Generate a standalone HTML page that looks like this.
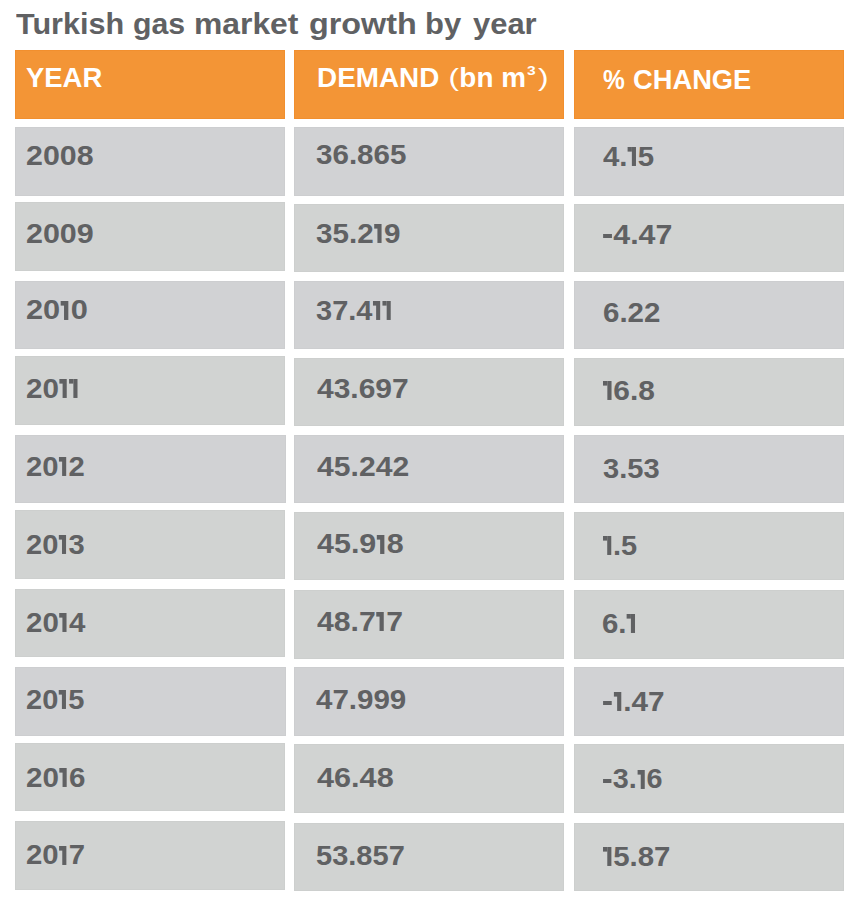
<!DOCTYPE html><html><head><meta charset="utf-8"><title>Turkish gas market growth by year</title><style>
html,body{margin:0;padding:0;background:#fff;}
body{width:858px;height:908px;position:relative;overflow:hidden;font-family:"Liberation Sans",sans-serif;font-weight:bold;}
.b{position:absolute;box-sizing:border-box;}
.ho{background:#F39536;box-shadow:inset 0 -1px 0 #F18F2E, inset -1px 0 0 #F18F2E, inset 1px 0 0 #F18F2E, inset 0 1px 0 #F18F2E;}
.g{background:#D1D2D4;box-shadow:inset 0 -1px 0 #CDCED0, inset -1px 0 0 #CDCED0, inset 1px 0 0 #CDCED0, inset 0 1px 0 #CDCED0;}
.g2{background:#D1D3D2;box-shadow:inset 0 -1px 0 #CDCFCE, inset -1px 0 0 #CDCFCE, inset 1px 0 0 #CDCFCE, inset 0 1px 0 #CDCFCE;}
.x{position:absolute;white-space:nowrap;transform-origin:0 0;font-size:27.5px;line-height:27.5px;color:#606163;}
.hx{color:#fff;}
.t{font-size:30px;line-height:30px;}
.hx{font-size:28px;line-height:28px;}
.o{display:inline-block;width:0.345em;color:transparent;background:linear-gradient(var(--c),var(--c)) 0.135em 0.16em/0.14em 0.69em no-repeat,linear-gradient(var(--c),var(--c)) 0.015em 0.16em/0.15em 0.168em no-repeat;}
.x{--c:#606163;}
.m{display:inline-block;width:0.37em;color:transparent;background:linear-gradient(var(--c),var(--c)) 0.04em 0.487em/0.296em 0.147em no-repeat;}
.sup{display:inline-block;font-size:12.5px;line-height:12px;vertical-align:12.4px;transform:scaleX(1.25);transform-origin:0 0;margin-left:1.6px;margin-right:4px;}
.p{display:inline-block;font-weight:normal;font-size:23.5px;vertical-align:1.1px;transform:scaleX(1.35);transform-origin:0 0;}
</style></head><body>
<div class="b ho" style="left:15px;top:50px;width:270px;height:69px"></div>
<div class="b g" style="left:15px;top:127px;width:270px;height:69px"></div>
<div class="b g2" style="left:15px;top:202px;width:270px;height:69px"></div>
<div class="b g" style="left:15px;top:281px;width:270px;height:68px"></div>
<div class="b g2" style="left:15px;top:356px;width:270px;height:69px"></div>
<div class="b g" style="left:15px;top:435px;width:271px;height:68px"></div>
<div class="b g2" style="left:15px;top:510px;width:270px;height:69px"></div>
<div class="b g2" style="left:15px;top:589px;width:270px;height:68px"></div>
<div class="b g" style="left:15px;top:667px;width:271px;height:69px"></div>
<div class="b g2" style="left:15px;top:743px;width:270px;height:68px"></div>
<div class="b g2" style="left:15px;top:821px;width:270px;height:69px"></div>
<div class="b ho" style="left:294px;top:50px;width:270px;height:69px"></div>
<div class="b g" style="left:294px;top:127px;width:270px;height:69px"></div>
<div class="b g2" style="left:294px;top:204px;width:270px;height:68px"></div>
<div class="b g" style="left:294px;top:281px;width:270px;height:68px"></div>
<div class="b g2" style="left:294px;top:358px;width:270px;height:68px"></div>
<div class="b g" style="left:294px;top:435px;width:270px;height:68px"></div>
<div class="b g2" style="left:294px;top:512px;width:270px;height:68px"></div>
<div class="b g2" style="left:294px;top:590px;width:270px;height:69px"></div>
<div class="b g" style="left:294px;top:667px;width:270px;height:69px"></div>
<div class="b g2" style="left:294px;top:744px;width:270px;height:69px"></div>
<div class="b g2" style="left:294px;top:823px;width:270px;height:68px"></div>
<div class="b ho" style="left:574px;top:50px;width:270px;height:69px"></div>
<div class="b g" style="left:574px;top:127px;width:270px;height:69px"></div>
<div class="b g2" style="left:574px;top:204px;width:270px;height:68px"></div>
<div class="b g" style="left:574px;top:281px;width:270px;height:68px"></div>
<div class="b g2" style="left:574px;top:358px;width:270px;height:68px"></div>
<div class="b g" style="left:574px;top:435px;width:270px;height:68px"></div>
<div class="b g2" style="left:574px;top:512px;width:270px;height:68px"></div>
<div class="b g2" style="left:574px;top:590px;width:270px;height:69px"></div>
<div class="b g" style="left:574px;top:667px;width:270px;height:69px"></div>
<div class="b g2" style="left:574px;top:744px;width:270px;height:69px"></div>
<div class="b g2" style="left:574px;top:823px;width:270px;height:68px"></div>
<div id="t0" class="x t" style="left:15.50px;top:8.70px;transform:scaleX(1.0196)">Turkish </div>
<div id="t1" class="x t" style="left:133.45px;top:8.70px;transform:scaleX(1.0089)">gas </div>
<div id="t2" class="x t" style="left:194.47px;top:8.70px;transform:scaleX(1.0611)">market </div>
<div id="t3" class="x t" style="left:309.02px;top:8.70px;transform:scaleX(1.0775)">growth </div>
<div id="t4" class="x t" style="left:424.87px;top:8.70px;transform:scaleX(1.0322)">by </div>
<div id="t5" class="x t" style="left:472.53px;top:8.70px;transform:scaleX(1.0308)">year</div>
<div id="h0" class="x hx" style="left:25.54px;top:63.88px;transform:scaleX(0.9802)">YEAR</div>
<div id="h1" class="x hx" style="left:316.55px;top:64.26px;transform:scaleX(0.9955)">DEMAND <span class="p" style="margin-left:1px;margin-right:3.5px">(</span>bn m<span class="sup">3</span><span class="p">)</span></div>
<div id="h2" class="x hx" style="left:603.00px;top:65.56px;transform:scaleX(0.8750)">% </div>
<div id="h3" class="x hx" style="left:633.34px;top:66.16px;transform:scaleX(0.9749)">CHANGE</div>
<div id="y0" class="x" style="left:25.72px;top:141.52px;transform:scaleX(1.1038)">2008</div>
<div id="d0" class="x" style="left:316.34px;top:141.38px;transform:scaleX(1.0748)">36.865</div>
<div id="c0" class="x" style="left:602.75px;top:142.66px;transform:scaleX(1.0691)">4.<span class="o">1</span>5</div>
<div id="y1" class="x" style="left:25.71px;top:219.56px;transform:scaleX(1.1074)">2009</div>
<div id="d1" class="x" style="left:316.37px;top:219.59px;transform:scaleX(1.0776)">35.2<span class="o">1</span>9</div>
<div id="c1" class="x" style="left:602.42px;top:220.98px;transform:scaleX(1.1048)"><span class="m">-</span>4.47</div>
<div id="y2" class="x" style="left:25.64px;top:296.44px;transform:scaleX(1.1186)">20<span class="o">1</span>0</div>
<div id="d2" class="x" style="left:316.38px;top:296.64px;transform:scaleX(1.0548)">37.4<span class="o">1</span><span class="o">1</span></div>
<div id="c2" class="x" style="left:602.57px;top:299.20px;transform:scaleX(1.0736)">6.22</div>
<div id="y3" class="x" style="left:25.75px;top:374.60px;transform:scaleX(1.0765)">20<span class="o">1</span><span class="o">1</span></div>
<div id="d3" class="x" style="left:316.69px;top:374.60px;transform:scaleX(1.0905)">43.697</div>
<div id="c3" class="x" style="left:602.65px;top:376.64px;transform:scaleX(1.0882)"><span class="o">1</span>6.8</div>
<div id="y4" class="x" style="left:25.84px;top:452.60px;transform:scaleX(1.0622)">20<span class="o">1</span>2</div>
<div id="d4" class="x" style="left:316.68px;top:453.02px;transform:scaleX(1.0954)">45.242</div>
<div id="c4" class="x" style="left:602.65px;top:454.60px;transform:scaleX(1.0579)">3.53</div>
<div id="y5" class="x" style="left:25.88px;top:530.61px;transform:scaleX(1.0586)">20<span class="o">1</span>3</div>
<div id="d5" class="x" style="left:316.68px;top:530.26px;transform:scaleX(1.1075)">45.9<span class="o">1</span>8</div>
<div id="c5" class="x" style="left:602.65px;top:531.64px;transform:scaleX(1.0537)"><span class="o">1</span>.5</div>
<div id="y6" class="x" style="left:25.86px;top:608.70px;transform:scaleX(1.0709)">20<span class="o">1</span>4</div>
<div id="d6" class="x" style="left:316.68px;top:607.65px;transform:scaleX(1.0972)">48.7<span class="o">1</span>7</div>
<div id="c6" class="x" style="left:602.41px;top:609.65px;transform:scaleX(1.0705)">6.<span class="o">1</span></div>
<div id="y7" class="x" style="left:25.90px;top:685.61px;transform:scaleX(1.0560)">20<span class="o">1</span>5</div>
<div id="d7" class="x" style="left:316.06px;top:685.98px;transform:scaleX(1.0728)">47.999</div>
<div id="c7" class="x" style="left:602.43px;top:687.65px;transform:scaleX(1.0809)"><span class="m">-</span><span class="o">1</span>.47</div>
<div id="y8" class="x" style="left:25.75px;top:763.70px;transform:scaleX(1.0750)">20<span class="o">1</span>6</div>
<div id="d8" class="x" style="left:316.68px;top:763.70px;transform:scaleX(1.1142)">46.48</div>
<div id="c8" class="x" style="left:601.90px;top:765.26px;transform:scaleX(1.0469)"><span class="m">-</span>3.<span class="o">1</span>6</div>
<div id="y9" class="x" style="left:25.87px;top:841.44px;transform:scaleX(1.0668)">20<span class="o">1</span>7</div>
<div id="d9" class="x" style="left:316.19px;top:841.64px;transform:scaleX(1.0561)">53.857</div>
<div id="c9" class="x" style="left:602.65px;top:842.84px;transform:scaleX(1.0700)"><span class="o">1</span>5.87</div>
</body></html>
